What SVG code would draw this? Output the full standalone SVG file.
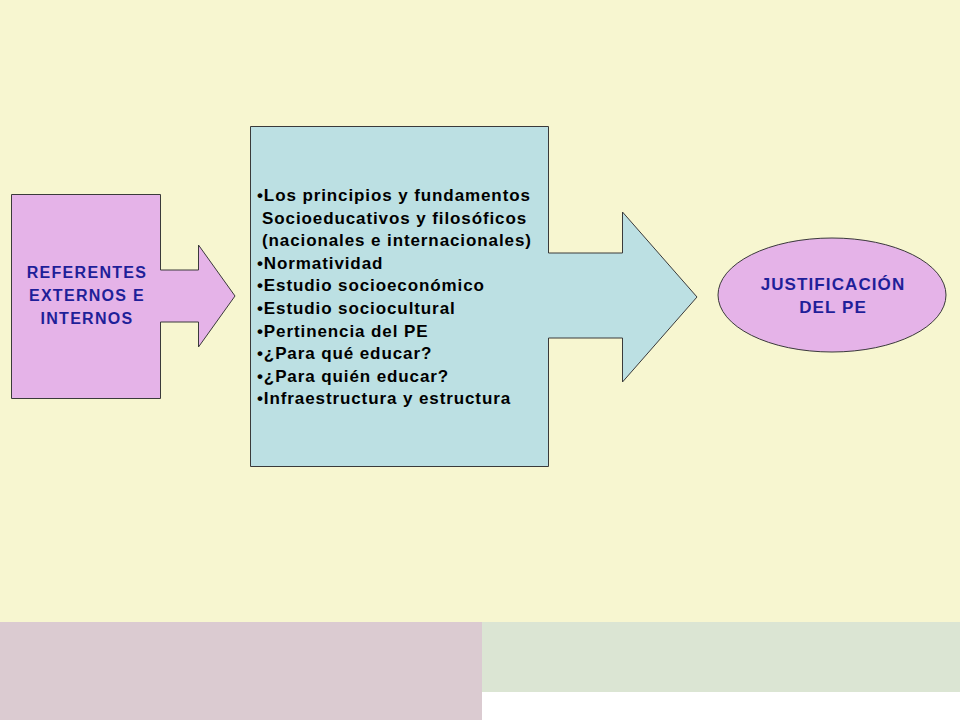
<svg xmlns="http://www.w3.org/2000/svg" width="960" height="720" viewBox="0 0 960 720">
<style>
.shape{stroke:#3a3a3a;stroke-width:1;stroke-linejoin:miter}
.pink{fill:#E5B3E8}
.blue{fill:#BCE0E3}
.lbl{font-family:"Liberation Sans",Arial,sans-serif;font-weight:bold;fill:#1F1F99;text-anchor:middle}
.list{font-family:"Liberation Sans",Arial,sans-serif;font-weight:bold;font-size:17px;letter-spacing:0.9px;fill:#000}
</style>
<rect x="0" y="0" width="960" height="622" fill="#F7F6D0"/>
<rect x="0" y="622" width="482" height="98" fill="#DBCBD1"/>
<rect x="482" y="622" width="478" height="70" fill="#DBE5D3"/>
<rect x="482" y="692" width="478" height="28" fill="#FFFFFF"/>
<g id="referentes">
<path class="shape pink" d="M11.5,194.5 H160.5 V270 H198.5 V245 L235,296 L198.5,347 V322 H160.5 V398.5 H11.5 Z"/>
<text class="lbl" font-size="16" letter-spacing="1.3" x="87" y="278">REFERENTES</text>
<text class="lbl" font-size="16" letter-spacing="1.3" x="87" y="301">EXTERNOS E</text>
<text class="lbl" font-size="16" letter-spacing="1.3" x="87" y="324">INTERNOS</text>
</g>
<g id="contenido">
<path class="shape blue" d="M250.5,126.5 H548.5 V253 H622.5 V212 L697,297 L622.5,382 V338 H548.5 V466.5 H250.5 Z"/>
<text class="list" x="257" y="201">•Los principios y fundamentos</text>
<text class="list" x="262" y="224">Socioeducativos y filosóficos</text>
<text class="list" x="262" y="246">(nacionales e internacionales)</text>
<text class="list" x="257" y="269">•Normatividad</text>
<text class="list" x="257" y="291">•Estudio socioeconómico</text>
<text class="list" x="257" y="314">•Estudio sociocultural</text>
<text class="list" x="257" y="337">•Pertinencia del PE</text>
<text class="list" x="257" y="359">•¿Para qué educar?</text>
<text class="list" x="257" y="382">•¿Para quién educar?</text>
<text class="list" x="257" y="404">•Infraestructura y estructura</text>
</g>
<g id="justificacion">
<ellipse class="shape pink" cx="832" cy="295" rx="114" ry="57"/>
<text class="lbl" font-size="17" letter-spacing="1.1" x="833" y="290">JUSTIFICACIÓN</text>
<text class="lbl" font-size="17" letter-spacing="1.1" x="833" y="313">DEL PE</text>
</g>
<g id="connectors"></g>
</svg>
